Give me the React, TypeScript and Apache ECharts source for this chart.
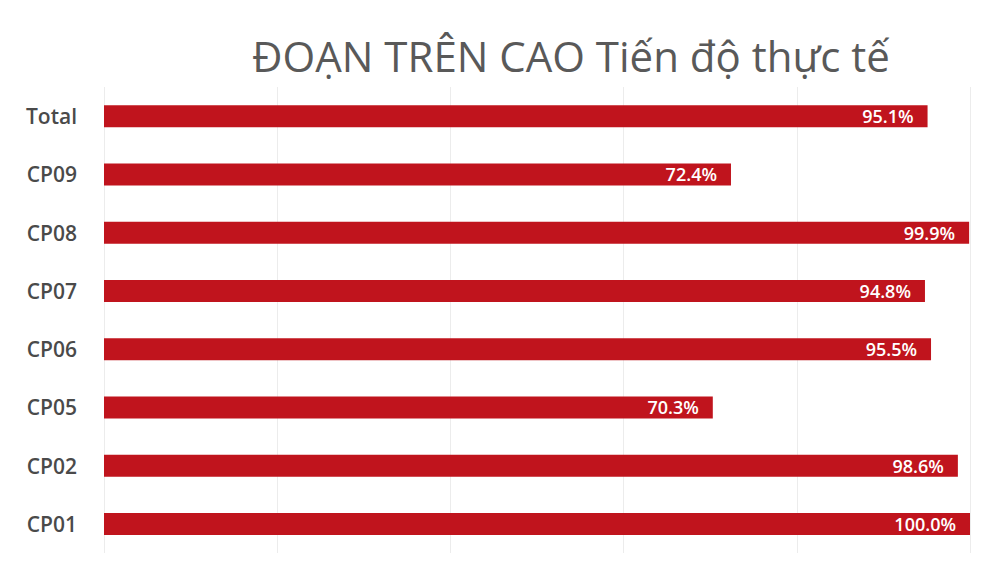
import React, { useEffect, useRef } from "react";
import * as echarts from "echarts";

// bottom to top, as the axis draws them
const categories = ["CP01", "CP02", "CP05", "CP06", "CP07", "CP08", "CP09", "Total"];
const progress = [100.0, 98.6, 70.3, 95.5, 94.8, 99.9, 72.4, 95.1];

const App: React.FC = () => {
  const chartRef = useRef<HTMLDivElement>(null);

  useEffect(() => {
    if (!chartRef.current) return;
    const chart = echarts.init(chartRef.current, null, { renderer: "svg" });

    const option: echarts.EChartsOption = {
      animation: false,
      backgroundColor: "#ffffff",
      title: {
        text: "ĐOẠN TRÊN CAO Tiến độ thực tế",
        left: 566,
        top: 29,
        textAlign: "center",
        textStyle: {
          fontFamily: "Open Sans",
          fontSize: 42,
          fontWeight: "normal",
          color: "#595959",
        },
      },
      grid: { left: 104, right: 30, top: 87, bottom: 14 },
      xAxis: {
        type: "value",
        min: 0,
        max: 100,
        interval: 20,
        axisLabel: { show: false },
        axisLine: { show: false },
        axisTick: { show: false },
        splitLine: { show: true, lineStyle: { color: "#ececec", width: 1 } },
      },
      yAxis: {
        type: "category",
        data: categories,
        axisLine: { show: false },
        axisTick: { show: false },
        axisLabel: {
          margin: 27,
          fontFamily: "Open Sans",
          fontSize: 21,
          fontWeight: 600,
          color: "#4a4a4a",
        },
      },
      series: [
        {
          type: "bar",
          data: progress,
          barWidth: 22,
          itemStyle: { color: "#c0141d" },
          label: {
            show: true,
            position: "insideRight",
            distance: 14,
            formatter: (p: any) => `${Number(p.value).toFixed(1)}%`,
            fontFamily: "Open Sans",
            fontSize: 18,
            fontWeight: 600,
            color: "#ffffff",
          },
        },
      ],
    };

    chart.setOption(option);
    return () => {
      chart.dispose();
    };
  }, []);

  return <div ref={chartRef} style={{ width: 1000, height: 567, margin: -8 }} />;
};

export default App;
